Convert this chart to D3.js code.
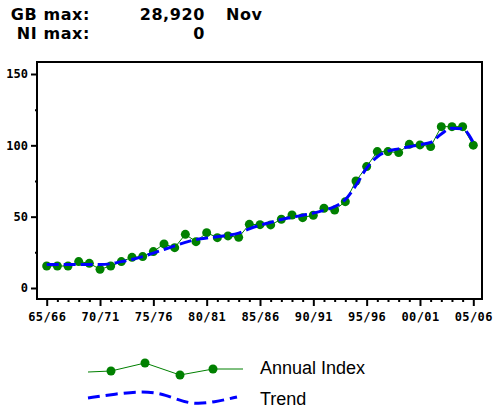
<!DOCTYPE html>
<html>
<head>
<meta charset="utf-8">
<script src="https://cdn.jsdelivr.net/npm/d3@7"></script>
<style>
  body { margin: 0; background: #fff; }
  svg { display: block; }
</style>
</head>
<body>
<svg id="chart"></svg>
<script>
// ---------------- data ----------------
let years = d3.range(1965, 2006);
let annualIndex = [15.4, 15.4, 15.4, 18.5, 17.3, 13.1, 15.4, 18.5, 21.5, 22,
                   25.5, 30.9, 28.3, 37.6, 32.5, 38.8, 35.3, 36.5, 35.5, 44.6,
                   44.4, 44.2, 48.2, 51.2, 49.3, 51, 55.9, 54.7, 60.5, 75,
                   85.1, 95.6, 95.6, 94.9, 100.7, 100.3, 99.1, 113.1, 113.1, 113.1,
                   100.1];
let trend = [16.5, 16.5, 16.5, 16.5, 16.5, 16.5, 17, 18.5, 20, 22,
             24.5, 27, 29.5, 32, 34, 35, 36, 37, 38.5, 41.5,
             44, 46, 48, 49.5, 51, 52.5, 54.5, 57, 62, 72,
             84, 92, 96, 97.5, 99, 100.5, 102, 108, 112, 111.5,
             102];
let xTickYears = [1965, 1970, 1975, 1980, 1985, 1990, 1995, 2000, 2005];
let yTicks = [0, 50, 100, 150];
let yMinorTicks = [25, 75, 125];
let headerRows = [
  {label: 'GB max:', value: '28,920', month: 'Nov'},
  {label: 'NI max:', value: '0', month: ''}
];
let legendNames = ['Annual Index', 'Trend'];

// ---------------- setup ----------------
let svgWidth = 494;
let svgHeight = 410;
let svg = d3.select('#chart')
    .attr('width', svgWidth)
    .attr('height', svgHeight);

let frame = {left: 37, top: 62, right: 482, bottom: 299};

let xScale = d3.scaleLinear()
    .domain([1965, 2005])
    .range([46.7, 473.3]);

let yScale = d3.scaleLinear()
    .domain([0, 150])
    .range([288, 74]);

// header lines
let header = svg.append('g')
    .style('font-family', 'DejaVu Sans, sans-serif')
    .style('font-weight', 'bold')
    .style('font-size', '16px')
    .style('letter-spacing', '0.6px');

headerRows.forEach(function(r, i) {
  let by = 20 + i * 19;
  header.append('text').attr('x', 90).attr('y', by).attr('text-anchor', 'end').text(r.label);
  header.append('text').attr('x', 205).attr('y', by).attr('text-anchor', 'end').text(r.value);
  header.append('text').attr('x', 226).attr('y', by).text(r.month);
});

// frame
svg.append('rect')
    .attr('x', frame.left)
    .attr('y', frame.top)
    .attr('width', frame.right - frame.left)
    .attr('height', frame.bottom - frame.top)
    .attr('fill', 'none')
    .attr('stroke', '#000')
    .attr('stroke-width', 2);

// y axis
let yAxis = d3.axisLeft(yScale)
    .tickValues(yTicks)
    .tickSize(6)
    .tickPadding(3);

let gy = svg.append('g')
    .attr('transform', 'translate(' + frame.left + ',0)')
    .call(yAxis);
gy.select('.domain').remove();
gy.selectAll('.tick line').attr('stroke-width', 2);
gy.selectAll('.tick text')
    .style('font-family', 'DejaVu Sans Mono, monospace')
    .style('font-weight', 'bold')
    .style('font-size', '12px')
    .attr('fill', '#000');

let gyMinor = svg.append('g')
    .attr('transform', 'translate(' + frame.left + ',0)')
    .call(d3.axisLeft(yScale).tickValues(yMinorTicks).tickSize(2).tickFormat(''));
gyMinor.select('.domain').remove();
gyMinor.selectAll('.tick line').attr('stroke-width', 2);

// x axis
let xAxis = d3.axisBottom(xScale)
    .tickValues(xTickYears)
    .tickSize(7)
    .tickPadding(6)
    .tickFormat(function(y) {
      let a = String(y % 100).padStart(2, '0');
      let b = String((y + 1) % 100).padStart(2, '0');
      return a + '/' + b;
    });

let gx = svg.append('g')
    .attr('transform', 'translate(0,' + frame.bottom + ')')
    .call(xAxis);
gx.select('.domain').remove();
gx.selectAll('.tick line').attr('stroke-width', 2);
gx.selectAll('.tick text')
    .style('font-family', 'DejaVu Sans Mono, monospace')
    .style('font-weight', 'bold')
    .style('font-size', '12px')
    .style('letter-spacing', '0.4px')
    .attr('fill', '#000');

let gxMinor = svg.append('g')
    .attr('transform', 'translate(0,' + frame.bottom + ')')
    .call(d3.axisBottom(xScale).tickValues(years.filter(function(y) { return y % 5 !== 0; }))
      .tickSize(3).tickFormat(''));
gxMinor.select('.domain').remove();
gxMinor.selectAll('.tick line').attr('stroke-width', 2);

// annual index line
let line = d3.line()
    .x(function(d, i) { return xScale(years[i]); })
    .y(function(d) { return yScale(d); });

svg.append('path')
    .datum(annualIndex)
    .attr('d', line)
    .attr('fill', 'none')
    .attr('stroke', '#008000')
    .attr('stroke-width', 1);

// markers
svg.selectAll('circle.pt')
    .data(annualIndex)
    .enter()
    .append('circle')
    .attr('class', 'pt')
    .attr('cx', function(d, i) { return xScale(years[i]); })
    .attr('cy', function(d) { return yScale(d); })
    .attr('r', 4.5)
    .attr('fill', '#008000');

// trend, drawn over the dots like the reference
let trendLine = d3.line()
    .x(function(d, i) { return xScale(years[i]); })
    .y(function(d) { return yScale(d); })
    .curve(d3.curveMonotoneX);

svg.append('path')
    .datum(trend)
    .attr('d', trendLine)
    .attr('fill', 'none')
    .attr('stroke', '#0000ff')
    .attr('stroke-width', 3)
    .attr('stroke-dasharray', '12,5');

// legend
let legendIdx = [[88, 372], [111, 371], [145, 363], [180, 375], [213, 369], [243, 369]];
let legendTrend = [[88, 398], [115, 394], [143, 391], [165, 394], [190, 405], [215, 402], [237, 397]];

svg.append('path')
    .attr('d', d3.line()(legendIdx))
    .attr('fill', 'none')
    .attr('stroke', '#008000')
    .attr('stroke-width', 1);

svg.selectAll('circle.leg')
    .data(legendIdx.slice(1, 5))
    .enter()
    .append('circle')
    .attr('class', 'leg')
    .attr('cx', function(d) { return d[0]; })
    .attr('cy', function(d) { return d[1]; })
    .attr('r', 4.5)
    .attr('fill', '#008000');

svg.append('path')
    .attr('d', d3.line().curve(d3.curveBasis)(legendTrend))
    .attr('fill', 'none')
    .attr('stroke', '#0000ff')
    .attr('stroke-width', 3)
    .attr('stroke-dasharray', '12,6');

svg.selectAll('text.leg')
    .data(legendNames)
    .enter()
    .append('text')
    .attr('class', 'leg')
    .attr('x', 260)
    .attr('y', function(d, i) { return 374 + i * 31; })
    .style('font-family', 'Liberation Sans, Arial, sans-serif')
    .style('font-size', '18px')
    .text(function(d) { return d; });
</script>
</body>
</html>
